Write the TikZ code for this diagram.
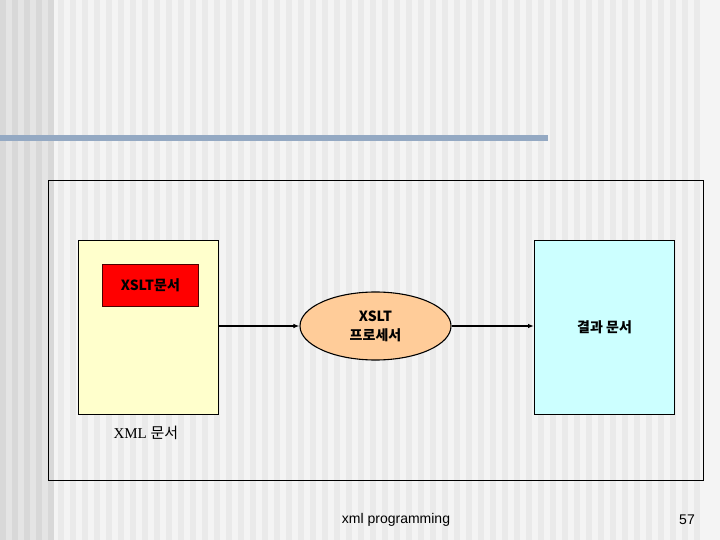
\documentclass[tikz,border=0pt]{standalone}
\usepackage{fontspec}
\setmainfont{Liberation Sans}
\newfontfamily\krfont{Noto Sans CJK KR}
\newfontfamily\serifx{Liberation Serif}
\usetikzlibrary{shapes.geometric,arrows.meta}
\definecolor{bgbase}{HTML}{F4F4F4}
\definecolor{bgstripe}{HTML}{EAEAEA}
\definecolor{bgdark}{HTML}{E4E4E4}
\definecolor{bgdarkstripe}{HTML}{D8D8D8}
\definecolor{barblue}{HTML}{94A9C3}
\definecolor{docyellow}{HTML}{FFFFCC}
\definecolor{doccyan}{HTML}{CCFFFF}
\definecolor{procpeach}{HTML}{FFCC99}
\definecolor{xslred}{HTML}{FF0000}
\tikzset{
  docbox/.style={draw=black, line width=1.1pt, inner sep=0pt, anchor=north west},
  conn/.style={draw=black, line width=1.1pt, -{Latex[length=6pt,width=4.5pt]}},
  lbl/.style={font=\krfont\bfseries\fontsize{14}{16}\selectfont, text=black, align=center}
}
\begin{document}
\begin{tikzpicture}[x=1pt,y=-1pt]
\useasboundingbox (0,0) rectangle (720,540);
% background
\fill[bgbase] (0,0) rectangle (720,540);
\fill[bgdark] (0,0) rectangle (52,540);
\foreach \i in {0,12,...,48} {\fill[bgdarkstripe] (\i,0) rectangle (\i+6,540);}
\foreach \i in {58,70,...,700} {\fill[bgstripe] (\i,0) rectangle (\i+6,540);}
% title bar
\fill[barblue] (0,135) rectangle (548,141);
% frame
\node[draw=black, line width=1.1pt, fill=none, inner sep=0pt, anchor=north west,
      minimum width=655pt, minimum height=300pt] (frame) at (48,180) {};
% XML document
\node[docbox, fill=docyellow, minimum width=140pt, minimum height=174pt] (xml) at (78,240) {};
\node[draw=black!70!red, line width=0.8pt, fill=xslred, inner sep=0pt, anchor=north west,
      minimum width=96pt, minimum height=42pt, lbl] (xsl) at (102,264) {XSLT문서};
\node[font=\serifx\fontsize{15}{17}\selectfont, anchor=west] (xmllbl) at (110,433) {XML \krfont 문서};
% processor
\node[ellipse, draw=black, line width=1.1pt, fill=procpeach, inner sep=0pt,
      minimum width=151pt, minimum height=68pt, lbl] (proc) at (375.5,326) {XSLT\\[3pt]프로세서};
% result
\node[docbox, fill=doccyan, minimum width=140pt, minimum height=174pt] (res) at (534,240) {};
\node[lbl] (reslbl) at (res.center) {결과 문서};
% connectors
\draw[conn] (xml.east |- proc.west) -- (proc.west);
\draw[conn] (proc.east) -- (res.west |- proc.east);
% footer
\node[font=\fontsize{14}{16}\selectfont] (foot) at (396,520) {xml programming};
\node[font=\fontsize{14}{16}\selectfont] (page) at (687,520) {57};
\end{tikzpicture}
\end{document}
